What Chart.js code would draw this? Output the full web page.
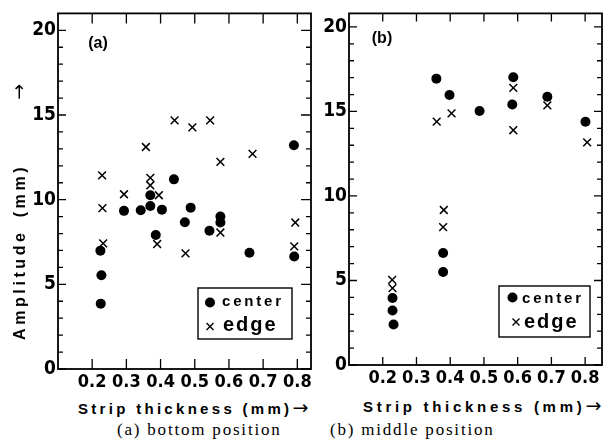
<!DOCTYPE html>
<html>
<head>
<meta charset="utf-8">
<script src="https://cdn.jsdelivr.net/npm/chart.js@4.4.0/dist/chart.umd.min.js"></script>
<style>
  body { margin: 0; background: #fff; }
  #wrap { position: relative; width: 609px; height: 447px; overflow: hidden; background: #fff; }
  canvas { position: absolute; top: 0; }
  #chartA { left: 0; }
  #chartB { left: 320px; }
  .txt { position: absolute; white-space: nowrap; color: #000; line-height: 16px; }
  .bold { font-family: 'Liberation Sans', Arial, sans-serif; font-weight: bold; font-size: 15px; }
  .arrow { font-family: 'DejaVu Sans', sans-serif; font-weight: normal; font-size: 19px; letter-spacing: 0; }
  .cap { font-family: 'Liberation Serif', 'Times New Roman', serif; font-size: 17px; line-height: 18px; letter-spacing: 1.8px; }
  #ytitle { left: 19px; top: 331px; font-size: 16px; transform-origin: 0 50%; transform: rotate(-90deg); letter-spacing: 3.6px; }
</style>
</head>
<body>
<div id="wrap">
  <canvas id="chartA" width="320" height="392"></canvas>
  <canvas id="chartB" width="289" height="392"></canvas>
  <div id="ytitle" class="txt bold">Amplitude<span style="margin-left:12px">(mm)</span><span class="arrow" style="margin-left:64px">→</span></div>
  <div class="txt bold" style="left:78px; top:399px; letter-spacing:3.3px;">Strip thickness (mm)<span class="arrow">→</span></div>
  <div class="txt bold" style="left:363px; top:397px; letter-spacing:3.7px;">Strip thickness (mm)<span class="arrow">→</span></div>
  <div class="txt cap" style="left:117px; top:421px;">(a) bottom position</div>
  <div class="txt cap" style="left:330px; top:421px;">(b) middle position</div>
</div>
<script>
// Amplitude (mm) vs strip thickness (mm)
// (a) bottom position
const bottomCenterX = [0.224, 0.227, 0.225, 0.293, 0.342, 0.37, 0.37, 0.404, 0.386, 0.439, 0.471, 0.488, 0.543, 0.575, 0.575, 0.66, 0.79, 0.791];
const bottomCenterY = [6.99, 5.54, 3.86, 9.34, 9.38, 9.63, 10.26, 9.41, 7.91, 11.2, 8.67, 9.53, 8.16, 9.0, 8.65, 6.87, 13.21, 6.64];
const bottomEdgeX = [0.229, 0.23, 0.232, 0.293, 0.357, 0.37, 0.37, 0.395, 0.39, 0.441, 0.473, 0.493, 0.545, 0.575, 0.575, 0.669, 0.794, 0.791];
const bottomEdgeY = [11.43, 9.5, 7.42, 10.32, 13.11, 11.29, 10.85, 10.26, 7.38, 14.68, 6.83, 14.27, 14.68, 12.23, 8.06, 12.7, 8.65, 7.24];

// (b) middle position
const middleCenterX = [0.229, 0.229, 0.232, 0.379, 0.379, 0.359, 0.398, 0.487, 0.587, 0.584, 0.688, 0.801];
const middleCenterY = [3.96, 3.22, 2.4, 6.63, 5.5, 16.94, 15.97, 15.03, 17.02, 15.41, 15.87, 14.39];
const middleEdgeX = [0.228, 0.229, 0.381, 0.379, 0.36, 0.404, 0.587, 0.587, 0.688, 0.806];
const middleEdgeY = [5.04, 4.55, 9.17, 8.16, 14.4, 14.89, 16.39, 13.89, 15.36, 13.17];

const xTicks = [0.2, 0.3, 0.4, 0.5, 0.6, 0.7, 0.8];
const yTicks = [0, 5, 10, 15, 20];
const yMinorTicks = [];
for (let v = 0; v <= 20; v++) yMinorTicks.push(v);

const seriesNames = ['center', 'edge'];

function toPoints(xs, ys) {
    return xs.map((x, i) => ({ x: x, y: ys[i] }));
}

const narrowFont = "'Liberation Sans Narrow', 'DejaVu Sans Condensed', 'Liberation Sans', sans-serif";
const boldFont = "'Liberation Sans', Arial, sans-serif";

// frame, inward ticks, panel letter and boxed legend
const framePlugin = {
    id: 'frame',
    afterDraw: function(chart, args, o) {
        const ctx = chart.ctx;
        const a = chart.chartArea;
        const x = chart.scales.x;
        const y = chart.scales.y;
        ctx.save();
        ctx.strokeStyle = '#000';
        ctx.fillStyle = '#000';
        ctx.lineWidth = 1.3;
        ctx.beginPath();
        xTicks.forEach(v => {
            const px = x.getPixelForValue(v);
            ctx.moveTo(px, a.bottom);
            ctx.lineTo(px, a.bottom - o.xTickLen);
            ctx.moveTo(px, a.top);
            ctx.lineTo(px, a.top + o.xTickLen);
        });
        yMinorTicks.forEach(v => {
            const py = y.getPixelForValue(v);
            const major = yTicks.includes(v);
            const l = major ? o.yMajorLen : o.yMinorLen;
            const r = major ? o.rMajorLen : o.rMinorLen;
            ctx.moveTo(a.left, py);
            ctx.lineTo(a.left + l, py);
            ctx.moveTo(a.right, py);
            ctx.lineTo(a.right - r, py);
        });
        ctx.stroke();

        ctx.lineWidth = 1.8;
        ctx.strokeRect(a.left, a.top, a.right - a.left, a.bottom - a.top);

        // panel letter
        ctx.font = 'bold 16px ' + boldFont;
        ctx.textAlign = 'center';
        ctx.textBaseline = 'middle';
        ctx.fillText(o.label, o.labelX, o.labelY);

        // legend
        const lg = o.legend;
        ctx.lineWidth = 1.4;
        ctx.strokeRect(lg.x, lg.y, lg.w, lg.h);
        ctx.beginPath();
        ctx.arc(lg.x + lg.dot[0], lg.y + lg.dot[1], 5, 0, Math.PI * 2);
        ctx.fill();
        const cx = lg.x + lg.cross[0];
        const cy = lg.y + lg.cross[1];
        ctx.beginPath();
        ctx.moveTo(cx - 3.5, cy - 3.5);
        ctx.lineTo(cx + 3.5, cy + 3.5);
        ctx.moveTo(cx + 3.5, cy - 3.5);
        ctx.lineTo(cx - 3.5, cy + 3.5);
        ctx.stroke();
        ctx.textAlign = 'left';
        ctx.textBaseline = 'alphabetic';
        ctx.font = 'bold 15px ' + boldFont;
        ctx.letterSpacing = '2.8px';
        ctx.fillText(seriesNames[0], lg.x + lg.t1[0], lg.y + lg.t1[1]);
        ctx.font = 'bold 20px ' + boldFont;
        ctx.letterSpacing = '2px';
        ctx.fillText(seriesNames[1], lg.x + lg.t2[0], lg.y + lg.t2[1]);
        ctx.letterSpacing = '0px';
        ctx.restore();
    }
};

function makePanel(canvasId, centerPts, edgePts, cfg) {
    const canvas = document.getElementById(canvasId);
    return new Chart(canvas, {
        type: 'scatter',
        data: {
            datasets: [{
                label: seriesNames[0],
                data: centerPts,
                pointStyle: 'circle',
                pointRadius: 5,
                backgroundColor: '#000',
                borderWidth: 0
            }, {
                label: seriesNames[1],
                data: edgePts,
                pointStyle: 'crossRot',
                pointRadius: 5.5,
                borderColor: '#000',
                backgroundColor: 'rgba(0,0,0,0)',
                borderWidth: 1.5
            }]
        },
        options: {
            responsive: false,
            animation: false,
            layout: { padding: cfg.pad },
            plugins: {
                legend: { display: false },
                tooltip: { enabled: false },
                frame: cfg.frame
            },
            scales: {
                x: {
                    type: 'linear',
                    min: cfg.xMin,
                    max: cfg.xMax,
                    afterBuildTicks: s => { s.ticks = xTicks.map(v => ({ value: v })); },
                    afterFit: s => { s.height = cfg.xHeight; },
                    grid: { display: false, drawTicks: false },
                    border: { display: false },
                    ticks: {
                        color: '#000',
                        padding: 3,
                        maxRotation: 0,
                        autoSkip: false,
                        font: { family: narrowFont, size: 18, weight: 'bold' },
                        callback: v => v.toFixed(1)
                    }
                },
                y: {
                    type: 'linear',
                    min: 0,
                    max: cfg.yMax,
                    afterBuildTicks: s => { s.ticks = yTicks.map(v => ({ value: v })); },
                    afterFit: s => { s.width = cfg.yWidth; },
                    grid: { display: false, drawTicks: false },
                    border: { display: false },
                    ticks: {
                        color: '#000',
                        padding: 2,
                        font: { family: narrowFont, size: 19, weight: 'bold' }
                    }
                }
            }
        },
        plugins: [framePlugin]
    });
}

makePanel('chartA', toPoints(bottomCenterX, bottomCenterY), toPoints(bottomEdgeX, bottomEdgeY), {
    pad: { top: 12, right: 9, left: 0, bottom: 0 },
    xMin: 0.1, xMax: 0.84, yMax: 21,
    xHeight: 23, yWidth: 58,
    frame: {
        xTickLen: 10, yMajorLen: 8, yMinorLen: 5, rMajorLen: 10, rMinorLen: 5,
        label: '(a)', labelX: 98, labelY: 44,
        legend: { x: 198, y: 288, w: 94, h: 51, dot: [12, 14.5], cross: [12, 38.5], t1: [24, 18], t2: [25, 43] }
    }
});

makePanel('chartB', toPoints(middleCenterX, middleCenterY), toPoints(middleEdgeX, middleEdgeY), {
    pad: { top: 9, right: 5, left: 0, bottom: 0 },
    xMin: 0.1, xMax: 0.85, yMax: 20.8,
    xHeight: 27, yWidth: 29,
    frame: {
        xTickLen: 8, yMajorLen: 8, yMinorLen: 5, rMajorLen: 8, rMinorLen: 5,
        label: '(b)', labelX: 62, labelY: 39,
        legend: { x: 179, y: 286, w: 91, h: 51, dot: [13.5, 11.5], cross: [17, 36], t1: [23, 17], t2: [25, 42] }
    }
});
</script>
</body>
</html>
